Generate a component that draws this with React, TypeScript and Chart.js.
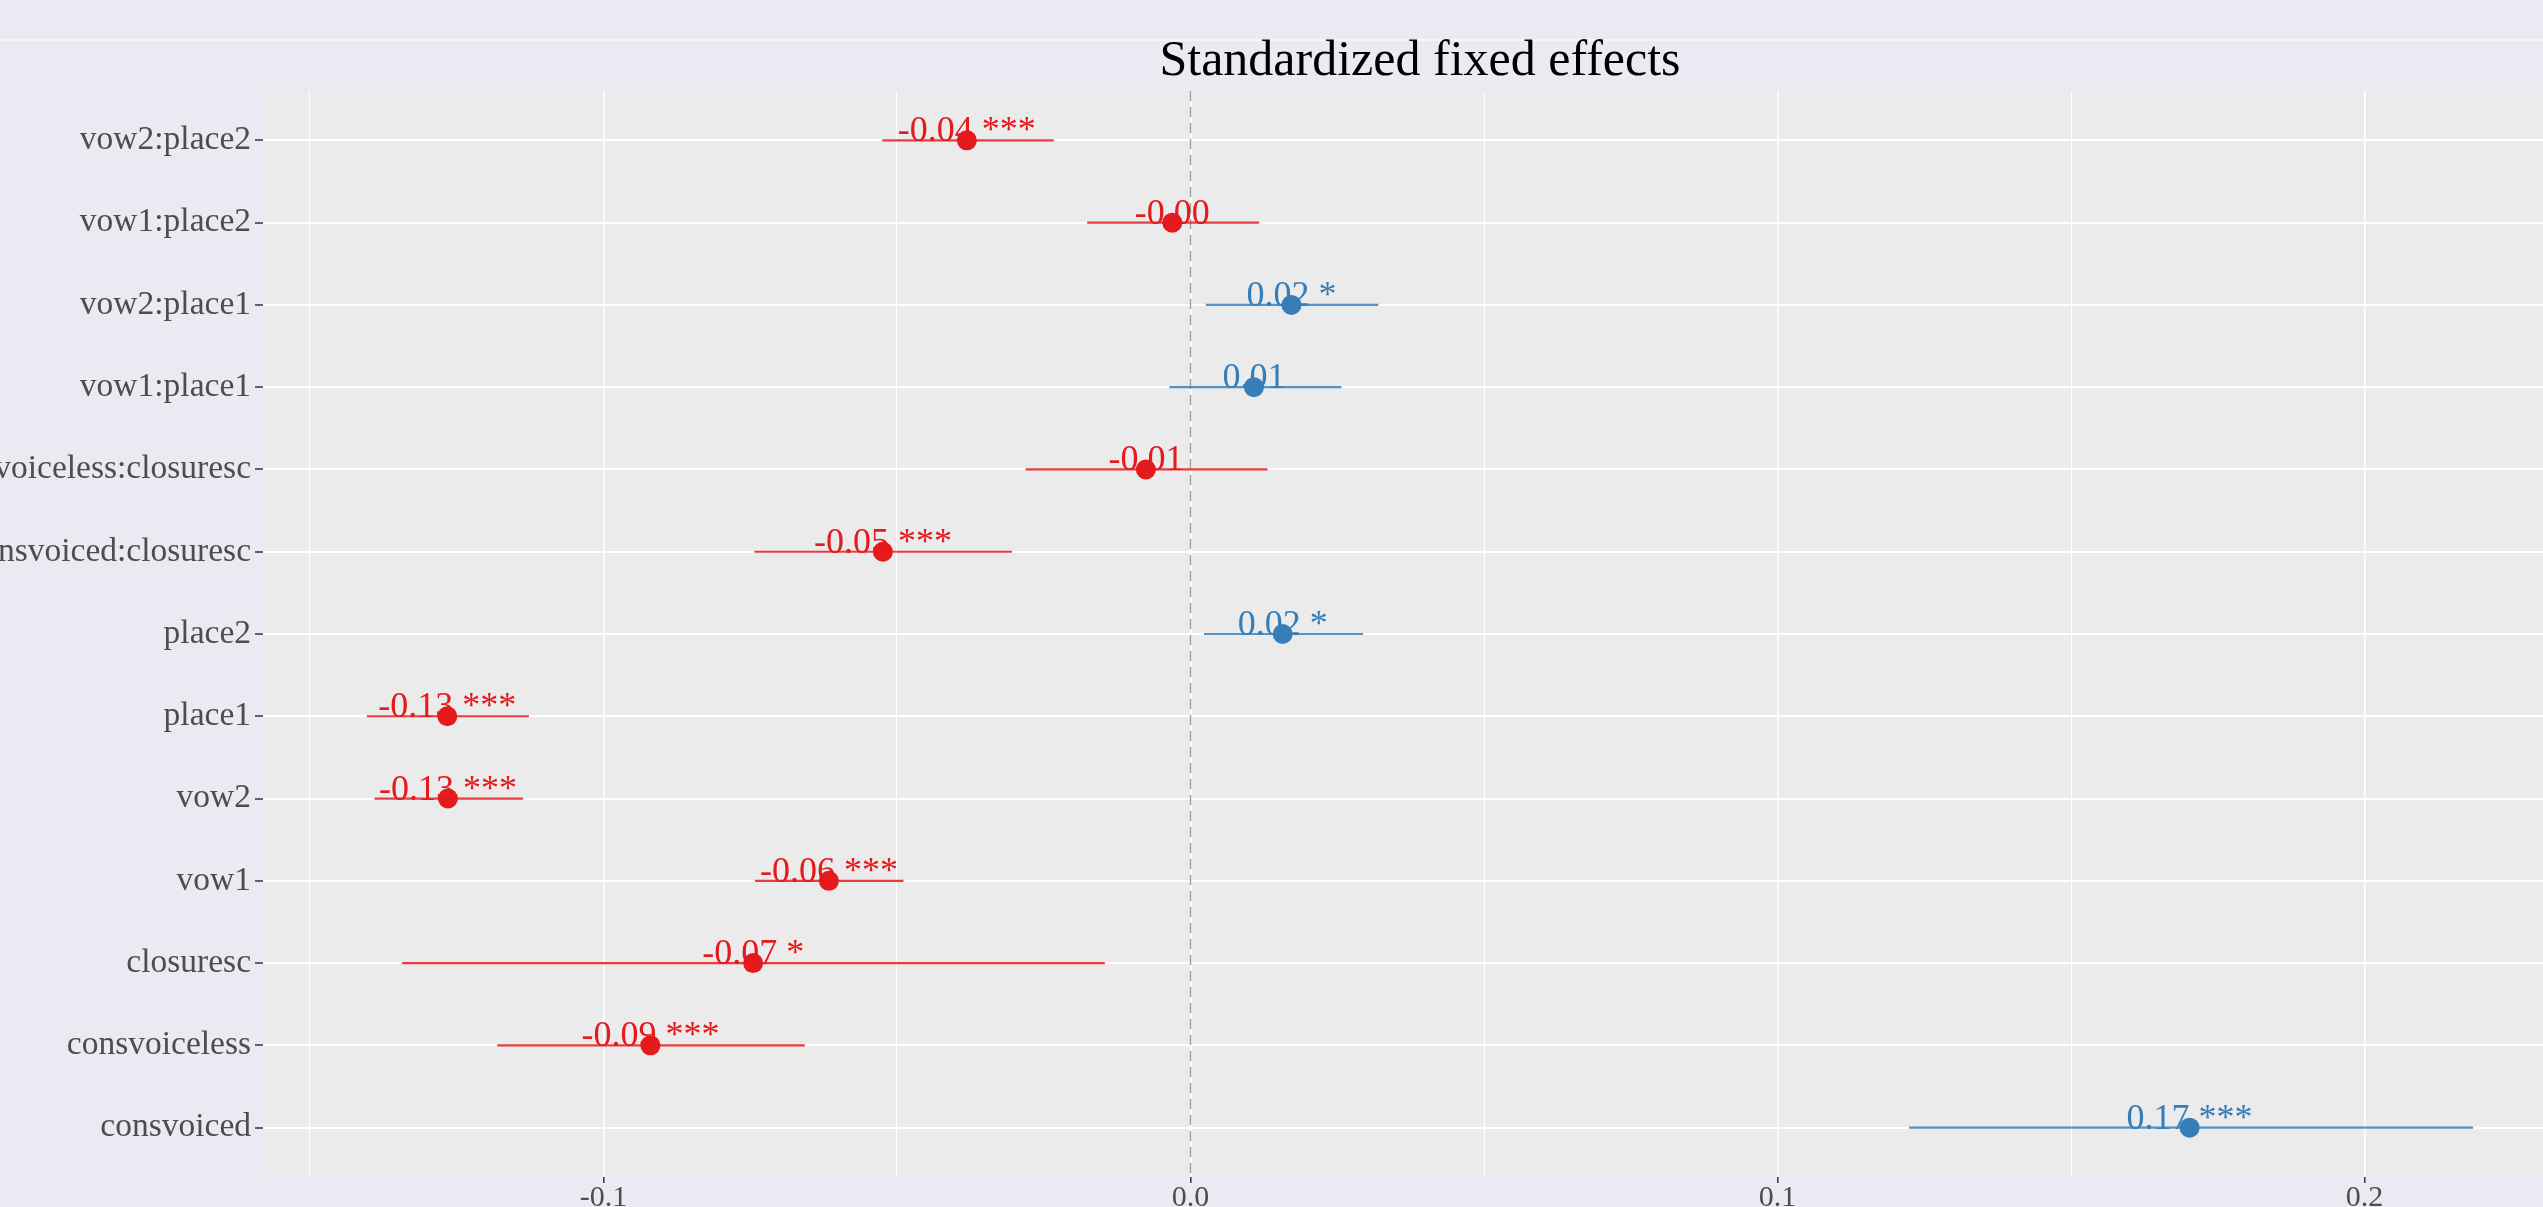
import React, { useEffect, useRef } from 'react';
import { Chart, registerables } from 'chart.js';

Chart.register(...registerables);

// Categories from bottom (index 0) to top
const categories = [
  'consvoiced',
  'consvoiceless',
  'closuresc',
  'vow1',
  'vow2',
  'place1',
  'place2',
  'consvoiced:closuresc',
  'consvoiceless:closuresc',
  'vow1:place1',
  'vow2:place1',
  'vow1:place2',
  'vow2:place2',
];
const estimates = [0.1702, -0.092, -0.0745, -0.0616, -0.1265, -0.1266, 0.0157, -0.0524, -0.0076, 0.0108, 0.0172, -0.0031, -0.0381];
const lowerCI = [0.1224, -0.1181, -0.1343, -0.0742, -0.139, -0.1403, 0.0023, -0.0743, -0.0281, -0.0036, 0.0026, -0.0176, -0.0525];
const upperCI = [0.2185, -0.0657, -0.0146, -0.0489, -0.1137, -0.1127, 0.0294, -0.0304, 0.0131, 0.0257, 0.032, 0.0117, -0.0233];
const stars = ['***', '***', '*', '***', '***', '***', '*', '***', '', '', '*', '', '***'];
const xTickValues = [-0.15, -0.1, -0.05, 0, 0.05, 0.1, 0.15, 0.2];
const xTickLabels = ['', '-0.1', '', '0.0', '', '0.1', '', '0.2'];
const titleText = 'Standardized fixed effects';

const RED = '#E41A1C';
const BLUE = '#377EB8';
const RED_LINE = 'rgba(228,26,28,0.85)';
const BLUE_LINE = 'rgba(55,126,184,0.85)';
const FONT = '"Liberation Serif", "DejaVu Serif", serif';

const colorFor = (v: number) => (v < 0 ? RED : BLUE);
const lineColorFor = (v: number) => (v < 0 ? RED_LINE : BLUE_LINE);

const decorPlugin = {
  id: 'decor',
  beforeDraw(chart: any) {
    const { ctx, chartArea: a, width, height } = chart;
    ctx.save();
    ctx.fillStyle = '#EAEAF2';
    ctx.fillRect(0, 0, width, height);
    ctx.fillStyle = '#F6F6FA';
    ctx.fillRect(0, 39, width, 2);
    ctx.fillStyle = '#EBEBEB';
    ctx.fillRect(a.left, a.top, a.right - a.left, a.bottom - a.top);
    ctx.fillStyle = '#000000';
    ctx.font = `50px ${FONT}`;
    ctx.textAlign = 'center';
    ctx.textBaseline = 'alphabetic';
    ctx.fillText(titleText, 1420, 75);
    ctx.restore();
  },
  beforeDatasetsDraw(chart: any) {
    const { ctx, chartArea: a, scales } = chart;
    const x0 = scales.x.getPixelForValue(0);
    ctx.save();
    ctx.strokeStyle = '#A3A3A3';
    ctx.lineWidth = 1.5;
    ctx.setLineDash([10, 6]);
    ctx.beginPath();
    ctx.moveTo(x0, a.top);
    ctx.lineTo(x0, a.bottom);
    ctx.stroke();
    ctx.restore();
  },
  afterDatasetsDraw(chart: any) {
    const { ctx, scales } = chart;
    ctx.save();
    ctx.font = `36px ${FONT}`;
    ctx.textAlign = 'center';
    ctx.textBaseline = 'alphabetic';
    estimates.forEach((v, i) => {
      const px = scales.x.getPixelForValue(v);
      const py = scales.y.getPixelForValue(i);
      const label = v.toFixed(2) + (stars[i] ? ' ' + stars[i] : '');
      ctx.fillStyle = colorFor(v);
      ctx.fillText(label, px, py + 1);
    });
    ctx.restore();
  },
};

export default function App() {
  const canvasRef = useRef<HTMLCanvasElement | null>(null);

  useEffect(() => {
    if (!canvasRef.current) return;
    const ciDatasets = categories.map((_, i) => ({
      type: 'line' as const,
      data: [
        { x: lowerCI[i], y: i },
        { x: upperCI[i], y: i },
      ],
      borderColor: lineColorFor(estimates[i]),
      borderWidth: 2.2,
      pointRadius: 0,
      showLine: true,
      fill: false,
    }));
    const pointDataset = {
      type: 'scatter' as const,
      data: estimates.map((v, i) => ({ x: v, y: i })),
      backgroundColor: estimates.map(colorFor),
      borderWidth: 0,
      pointRadius: 10,
    };
    const chart = new Chart(canvasRef.current, {
      type: 'scatter',
      data: { datasets: [...ciDatasets, pointDataset] as any },
      options: {
        animation: false,
        responsive: false,
        maintainAspectRatio: false,
        layout: { autoPadding: false, padding: { top: 91, left: 0, right: 0, bottom: 0 } },
        plugins: {
          legend: { display: false },
          tooltip: { enabled: false },
          title: { display: false },
        },
        scales: {
          x: {
            type: 'linear',
            min: -0.158,
            max: 0.2304,
            afterBuildTicks: (s: any) => {
              s.ticks = xTickValues.map((v) => ({ value: v }));
            },
            afterFit: (s: any) => {
              s.height = 30;
              s.paddingLeft = 0;
              s.paddingRight = 0;
            },
            ticks: {
              callback: (_v: any, idx: number) => xTickLabels[idx],
              font: { family: FONT, size: 30 },
              color: '#4D4D4D',
              padding: -3,
              maxRotation: 0,
              autoSkip: false,
            },
            grid: {
              color: '#FFFFFF',
              lineWidth: (c: any) => (xTickLabels[c.index] ? 1.6 : 1),
              tickColor: (c: any) => (xTickLabels[c.index] ? '#333333' : 'rgba(0,0,0,0)'),
              tickLength: 6,
              tickWidth: 1.5,
            },
            border: { display: false },
          },
          y: {
            type: 'linear',
            min: -0.6,
            max: categories.length - 1 + 0.6,
            afterBuildTicks: (s: any) => {
              s.ticks = categories.map((_, i) => ({ value: i }));
            },
            afterFit: (s: any) => {
              s.width = 263;
              s.paddingTop = 0;
              s.paddingBottom = 0;
            },
            ticks: {
              callback: (v: any) => categories[v as number],
              font: { family: FONT, size: 33.5 },
              color: '#4D4D4D',
              padding: 4,
              autoSkip: false,
            },
            grid: {
              color: '#FFFFFF',
              lineWidth: 2,
              tickColor: '#333333',
              tickLength: 8,
              tickWidth: 1.5,
            },
            border: { display: false },
          },
        },
      },
      plugins: [decorPlugin],
    });
    return () => chart.destroy();
  }, []);

  return (
    <div style={{ position: 'absolute', left: 0, top: 0, width: 2543, height: 1207, overflow: 'hidden' }}>
      <canvas ref={canvasRef} width={2543} height={1207} style={{ display: 'block' }} />
    </div>
  );
}
